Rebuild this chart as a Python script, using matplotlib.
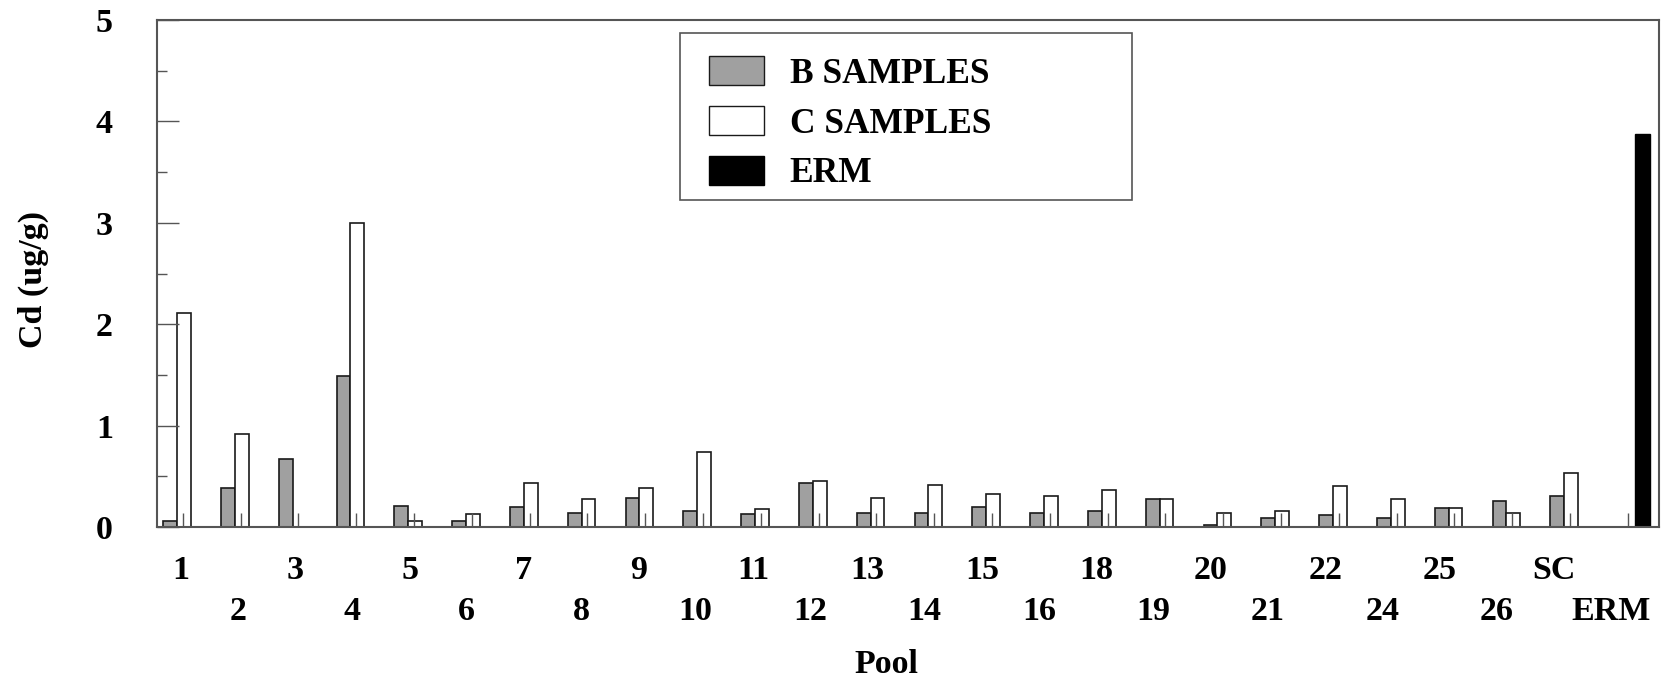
import matplotlib
matplotlib.use("Agg")
import matplotlib.pyplot as plt
from matplotlib.patches import Patch, Rectangle
import numpy as np

plt.rcParams['font.family'] = ['Liberation Serif', 'DejaVu Serif']
plt.rcParams['font.weight'] = 'bold'

# Data
pools = ['1', '2', '3', '4', '5', '6', '7', '8', '9', '10', '11', '12', '13',
         '14', '15', '16', '18', '19', '20', '21', '22', '24', '25', '26', 'SC', 'ERM']
b_samples = [0.06, 0.38, 0.67, 1.49, 0.21, 0.06, 0.195, 0.14, 0.29, 0.16, 0.125, 0.43, 0.14,
             0.14, 0.195, 0.14, 0.158, 0.28, 0.02, 0.092, 0.122, 0.092, 0.19, 0.26, 0.31, np.nan]
c_samples = [2.11, 0.92, np.nan, 3.0, 0.06, 0.125, 0.435, 0.28, 0.38, 0.74, 0.175, 0.45, 0.29,
             0.415, 0.33, 0.31, 0.366, 0.28, 0.138, 0.161, 0.40, 0.28, 0.19, 0.138, 0.537, np.nan]
erm_value = 3.88

FS = 24.5
grey = '#555555'

fig = plt.figure(figsize=(16.61, 6.83), dpi=100)
ax = fig.add_axes([0.0943, 0.2284, 0.9985 - 0.0943, 0.9707 - 0.2284])

x = np.arange(len(pools))
w = 0.239
ax.bar(x - w / 2, b_samples, w, color='#a0a0a0', edgecolor='#1a1a1a', linewidth=1.2)
ax.bar(x + w / 2, c_samples, w, color='white', edgecolor='#1a1a1a', linewidth=1.2)
ax.bar(x[-1] + 1.5 * w, erm_value, w * 1.08, color='black', edgecolor='black', linewidth=1)

ax.set_xlim(-0.351, 25.63)
ax.set_ylim(0, 5)

# y axis: inward ticks, minor every 0.5
ax.set_yticks(np.arange(0, 6, 1))
ax.set_yticks(np.arange(0.5, 5, 1), minor=True)
ax.tick_params(axis='y', which='major', direction='in', length=15.8, width=1,
               color=grey, pad=31.5, labelsize=FS)
ax.tick_params(axis='y', which='minor', direction='in', length=7.2, width=1, color=grey)

# x labels in two staggered rows
lx = x + 0.064 - 0.01 * x
ax.set_xticks(lx[0::2])
ax.set_xticklabels(pools[0::2])
ax.set_xticks(lx[1::2], minor=True)
ax.set_xticklabels(pools[1::2], minor=True)
ax.tick_params(axis='x', which='major', length=0, pad=20, labelsize=FS)
ax.tick_params(axis='x', which='minor', length=0, pad=50, labelsize=FS)

for s in ax.spines.values():
    s.set_color(grey)
    s.set_linewidth(1.5)

# small inner tick marks at each pool
ax2 = ax.twiny()
ax2.set_xlim(ax.get_xlim())
ax2.set_xticks(x + 0.1)
ax2.xaxis.set_ticks_position('bottom')
ax2.tick_params(axis='x', direction='in', length=10, width=1, color=grey,
                labelbottom=False, labeltop=False)
for s in ax2.spines.values():
    s.set_visible(False)

fig.text(33 / 1661, 1 - 279 / 683, 'Cd (ug/g)', rotation=90, ha='center', va='center',
         fontsize=FS, fontweight='bold')
fig.text(886.6 / 1661, 1 - 673 / 683, 'Pool', ha='center', va='baseline',
         fontsize=FS, fontweight='bold')

# legend
handles = [Patch(facecolor='#a0a0a0', edgecolor='#1a1a1a', linewidth=1),
           Patch(facecolor='white', edgecolor='#1a1a1a', linewidth=1),
           Patch(facecolor='black', edgecolor='black', linewidth=1)]
labels = ['B SAMPLES', 'C SAMPLES', 'ERM']
fig.legend(handles, labels, loc='upper left', bbox_to_anchor=(709 / 1661, 1 - 56 / 683),
           frameon=False, borderpad=0, borderaxespad=0, fontsize=25.5,
           handlelength=1.56, handleheight=0.9, handletextpad=0.72, labelspacing=0.42)
fig.patches.append(Rectangle((680 / 1661, 1 - 200 / 683), 452 / 1661, 167 / 683,
                             transform=fig.transFigure, fill=False, edgecolor=grey,
                             linewidth=1.2))

fig.savefig('out.png', dpi=100)
